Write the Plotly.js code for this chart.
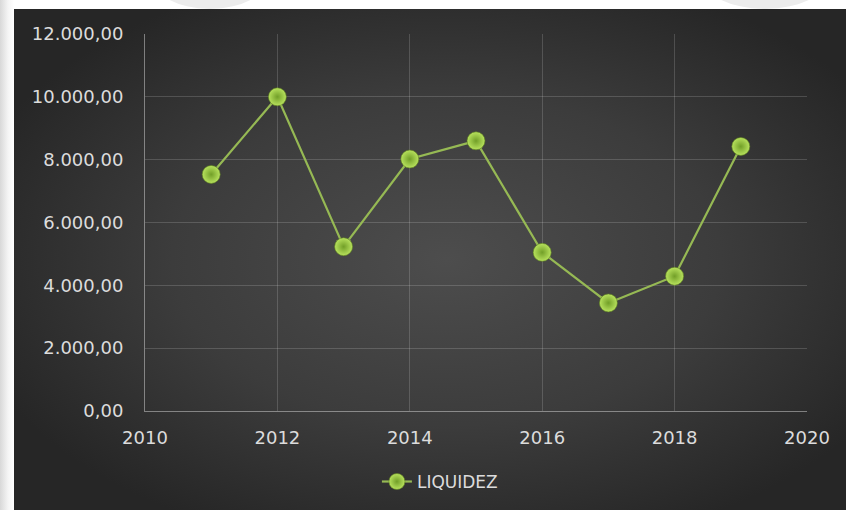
<!DOCTYPE html>
<html>
<head>
<meta charset="utf-8">
<script src="https://cdn.plot.ly/plotly-3.0.1.min.js"></script>
<style>
  html, body { margin: 0; padding: 0; width: 846px; height: 510px; overflow: hidden; }
  body { background: linear-gradient(to right, #d8d8d8 0px, #f4f4f4 8px, #ffffff 14px); position: relative; }
  #bg { position: absolute; left: 14px; top: 9px; width: 832px; height: 501px;
        background: radial-gradient(ellipse 60% 60% at 52% 50%, #4d4d4d 0%, #3c3c3c 55%, #262626 100%); }
  #topdeco1 { position: absolute; left: 150px; top: -60px; width: 120px; height: 69px; border-radius: 50%; background: #ececec; }
  #topdeco2 { position: absolute; left: 700px; top: -60px; width: 130px; height: 69px; border-radius: 50%; background: #ececec; }
  #chart { position: absolute; left: 0; top: 0; width: 846px; height: 510px; }
</style>
</head>
<body>
<div id="topdeco1"></div>
<div id="topdeco2"></div>
<div id="bg"></div>
<div id="chart"></div>
<script>
const years = [2011, 2012, 2013, 2014, 2015, 2016, 2017, 2018, 2019];
const liquidez = [7530, 10000, 5230, 8020, 8600, 5050, 3440, 4290, 8420];
const seriesName = 'LIQUIDEZ';
const yTickVals = [0, 2000, 4000, 6000, 8000, 10000, 12000];
const yTickText = ['0,00', '2.000,00', '4.000,00', '6.000,00', '8.000,00', '10.000,00', '12.000,00'];
const xTickVals = [2010, 2012, 2014, 2016, 2018, 2020];

const trace = {
  x: years,
  y: liquidez,
  name: seriesName,
  type: 'scatter',
  mode: 'lines+markers',
  line: { color: '#96b954', width: 2.2 },
  marker: {
    size: 18,
    color: '#b8e25e',
    gradient: { type: 'radial', color: '#729f28' },
    line: { color: '#5c7f1e', width: 0.6 }
  }
};

const fontFam = '"DejaVu Sans", "Liberation Sans", Arial, sans-serif';

const layout = {
  width: 846,
  height: 510,
  margin: { l: 145, r: 38.5, t: 33.5, b: 98.5 },
  paper_bgcolor: 'rgba(0,0,0,0)',
  plot_bgcolor: 'rgba(0,0,0,0)',
  showlegend: true,
  font: { family: fontFam, color: '#d9d9d9', size: 18 },
  xaxis: {
    range: [2010, 2020],
    tickvals: xTickVals,
    ticktext: xTickVals.map(String),
    showgrid: true,
    gridcolor: 'rgba(255,255,255,0.16)',
    gridwidth: 1,
    showline: true,
    linecolor: 'rgba(255,255,255,0.4)',
    linewidth: 1,
    zeroline: false,
    ticks: '',
    ticklabelstandoff: 10,
    tickfont: { family: fontFam, size: 18, color: '#dcdcdc' }
  },
  yaxis: {
    range: [0, 12000],
    tickvals: yTickVals,
    ticktext: yTickText,
    showgrid: true,
    gridcolor: 'rgba(255,255,255,0.16)',
    gridwidth: 1,
    showline: true,
    linecolor: 'rgba(255,255,255,0.4)',
    linewidth: 1,
    zeroline: false,
    ticks: '',
    ticklabelstandoff: 17,
    tickfont: { family: fontFam, size: 18, color: '#dcdcdc' }
  },
  legend: {
    orientation: 'h',
    xref: 'container',
    yref: 'container',
    x: 0.52,
    xanchor: 'center',
    y: 0.055,
    yanchor: 'middle',
    font: { family: fontFam, size: 17, color: '#dcdcdc' },
    bgcolor: 'rgba(0,0,0,0)'
  }
};

Plotly.newPlot('chart', [trace], layout, { displayModeBar: false, staticPlot: true });
</script>
</body>
</html>
